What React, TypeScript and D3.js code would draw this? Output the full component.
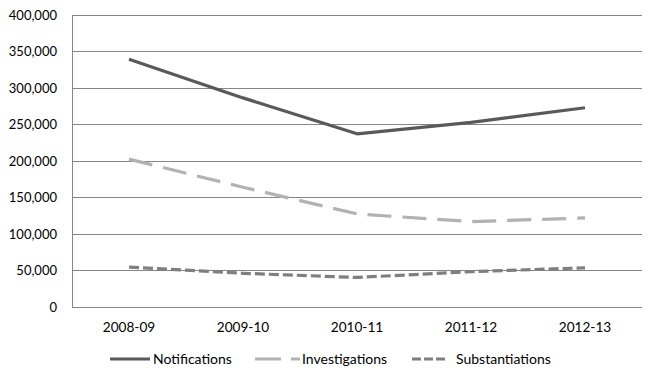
import React from "react";
import * as d3 from "d3";

const categories = ["2008-09", "2009-10", "2010-11", "2011-12", "2012-13"];
const notifications = [339454, 286437, 237273, 252962, 272980];
const investigations = [202500, 164000, 127500, 117000, 122000];
const substantiations = [54621, 46187, 40466, 48420, 53666];
const yTicks = [0, 50000, 100000, 150000, 200000, 250000, 300000, 350000, 400000];

const seriesList = [
  { name: "Notifications", values: notifications, color: "#595959", dash: "none" },
  { name: "Investigations", values: investigations, color: "#b2b2b2", dash: "24,11" },
  { name: "Substantiations", values: substantiations, color: "#7f7f7f", dash: "10,4" },
];

const W = 651, H = 377;
const M = { left: 72, right: 642, top: 15, bottom: 307 };

export default function App() {
  const x = d3.scaleBand<string>().domain(categories).range([M.left, M.right]);
  const y = d3.scaleLinear().domain([0, 400000]).range([M.bottom, M.top]);
  const fmt = d3.format(",");
  const line = d3
    .line<number>()
    .x((_, i) => (x(categories[i]) as number) + x.bandwidth() / 2)
    .y((d) => y(d))
    .curve(d3.curveLinear);

  const legendItems = [
    { x1: 110, x2: 150, tx: 153 },
    { x1: 255, x2: 300, tx: 302 },
    { x1: 412, x2: 447, tx: 456 },
  ];

  const font = "Lato, 'Open Sans', sans-serif";

  return (
    <svg width={W} height={H} style={{ position: "absolute", left: 0, top: 0, background: "#fff" }}>
      <rect x={0} y={0} width={W} height={H} fill="#fff" />
      {yTicks.map((t) => (
        <g key={t}>
          {t > 0 && (
            <line x1={M.left} x2={M.right} y1={y(t)} y2={y(t)} stroke="#868686" strokeWidth={1} shapeRendering="crispEdges" />
          )}
          <text x={57} y={y(t)} dy="0.35em" textAnchor="end" fontFamily={font} fontSize={13} fill="#000">
            {fmt(t)}
          </text>
        </g>
      ))}
      <line x1={M.left} x2={M.right} y1={M.bottom} y2={M.bottom} stroke="#868686" strokeWidth={1} shapeRendering="crispEdges" />
      <line x1={M.left} x2={M.left} y1={M.top} y2={M.bottom} stroke="#868686" strokeWidth={1} shapeRendering="crispEdges" />
      {categories.map((c) => (
        <text key={c} x={(x(c) as number) + x.bandwidth() / 2} y={332} textAnchor="middle" fontFamily={font} fontSize={13.6} fill="#000">
          {c}
        </text>
      ))}
      {seriesList.map((s) => (
        <path key={s.name} d={line(s.values) || ""} fill="none" stroke={s.color} strokeWidth={3.2} strokeDasharray={s.dash} strokeLinejoin="round" />
      ))}
      {seriesList.map((s, i) => (
        <g key={s.name}>
          <line x1={legendItems[i].x1} x2={legendItems[i].x2} y1={359} y2={359} stroke={s.color} strokeWidth={3.2} strokeDasharray={s.dash === "none" ? "none" : i === 1 ? "26,10" : "9,3"} />
          <text x={legendItems[i].tx} y={359} dy="0.35em" fontFamily={font} fontSize={14} fill="#000">
            {s.name}
          </text>
        </g>
      ))}
    </svg>
  );
}
